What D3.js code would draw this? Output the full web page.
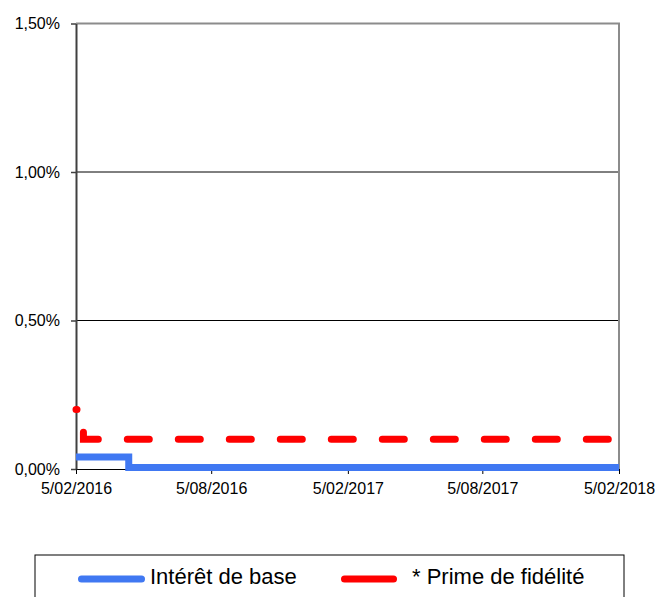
<!DOCTYPE html>
<html>
<head>
<meta charset="utf-8">
<script src="https://cdn.jsdelivr.net/npm/d3@7"></script>
<style>
  body { margin: 0; background: #fff; }
  svg { display: block; font-family: "Liberation Sans", Arial, sans-serif; }
  .axis text { font-size: 16px; fill: #000; }
</style>
</head>
<body>
<svg class="chart" width="657" height="597"></svg>
<script>
// valeurs (en %)
var baseDates = ["2016-02-05", "2016-04-16", "2018-02-05"];
var baseRates = [0.04, 0.005, 0.005];

var primeDates = ["2016-02-05", "2016-02-15", "2018-02-05"];
var primeRates = [0.20, 0.10, 0.10];

var xTicks = ["2016-02-05", "2016-08-05", "2017-02-05", "2017-08-05", "2018-02-05"];
var yTicks = [0, 0.5, 1.0, 1.5];

var legendLabels = ["Intérêt de base", "* Prime de fidélité"];

var parseDate = d3.timeParse("%Y-%m-%d");
var formatDate = function(d) { return d.getDate() + d3.timeFormat("/%m/%Y")(d); };
var formatPct = function(v) { return v.toFixed(2).replace(".", ",") + "%"; };

var margin = {top: 23.5, right: 38, bottom: 128, left: 76},
    width = 657 - margin.left - margin.right,
    height = 597 - margin.top - margin.bottom;

var x = d3.scaleTime()
    .domain([parseDate(xTicks[0]), parseDate(xTicks[xTicks.length - 1])])
    .range([0, width]);

var y = d3.scaleLinear()
    .domain([0, 1.5])
    .range([height, 0]);

var svg = d3.select(".chart");
var g = svg.append("g").attr("transform", "translate(" + margin.left + "," + margin.top + ")");

// grille
g.selectAll(".grid")
  .data([0.5, 1.0])
  .enter().append("line")
  .attr("x1", 0).attr("x2", width)
  .attr("y1", function(d) { return y(d); })
  .attr("y2", function(d) { return y(d); })
  .attr("stroke", "#000").attr("stroke-width", 1);

// cadre haut et droite
g.append("path")
  .attr("d", "M0," + y(1.5) + "H" + width + "V" + height)
  .attr("fill", "none").attr("stroke", "#8c8c8c").attr("stroke-width", 2);

var xAxis = g.append("g")
  .attr("class", "axis axis--x")
  .attr("transform", "translate(0," + height + ")")
  .call(d3.axisBottom(x)
    .tickValues(xTicks.map(parseDate))
    .tickFormat(formatDate)
    .tickSize(5).tickPadding(9).tickSizeOuter(0));
xAxis.select(".domain").attr("stroke", "#000").attr("stroke-width", 1.2);
xAxis.selectAll(".tick line").attr("stroke", "#000");

var yAxis = g.append("g")
  .attr("class", "axis axis--y")
  .call(d3.axisLeft(y)
    .tickValues(yTicks)
    .tickFormat(formatPct)
    .tickSize(5).tickPadding(11).tickSizeOuter(0));
yAxis.select(".domain").attr("stroke", "#404040").attr("stroke-width", 2);
yAxis.selectAll(".tick line").attr("stroke", "#404040").attr("stroke-width", 1.5);

var line = d3.line()
  .curve(d3.curveStepAfter)
  .x(function(d) { return x(d[0]); })
  .y(function(d) { return y(d[1]); });

var baseData = baseDates.map(function(d, i) { return [parseDate(d), baseRates[i]]; });
var primeData = primeDates.map(function(d, i) { return [parseDate(d), primeRates[i]]; });

g.append("path")
  .datum(baseData)
  .attr("d", line)
  .attr("fill", "none")
  .attr("stroke", "#4078f2")
  .attr("stroke-width", 7);

g.append("path")
  .datum(primeData)
  .attr("d", line)
  .attr("fill", "none")
  .attr("stroke", "#ff0000")
  .attr("stroke-width", 7)
  .attr("stroke-linecap", "round")
  .attr("stroke-dasharray", "22,29")
  .attr("stroke-dashoffset", 21);

// légende
var legend = svg.append("g");
legend.append("rect")
  .attr("x", 35).attr("y", 555)
  .attr("width", 589).attr("height", 60)
  .attr("fill", "#fff").attr("stroke", "#000").attr("stroke-width", 1);

var legendItems = [
  {label: legendLabels[0], color: "#4078f2", x1: 81.5, x2: 141.5, tx: 150},
  {label: legendLabels[1], color: "#ff0000", x1: 344.5, x2: 393.5, tx: 412}
];

var item = legend.selectAll(".item")
  .data(legendItems)
  .enter().append("g");

item.append("line")
  .attr("x1", function(d) { return d.x1; })
  .attr("x2", function(d) { return d.x2; })
  .attr("y1", 579).attr("y2", 579)
  .attr("stroke", function(d) { return d.color; })
  .attr("stroke-width", 7)
  .attr("stroke-linecap", "round");

item.append("text")
  .attr("x", function(d) { return d.tx; })
  .attr("y", 584)
  .style("font-size", "22px")
  .text(function(d) { return d.label; });
</script>
</body>
</html>
